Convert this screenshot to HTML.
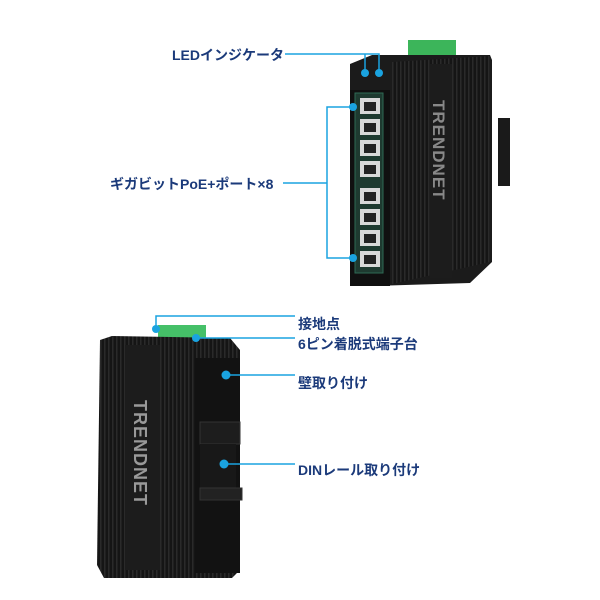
<!DOCTYPE html>
<html><head><meta charset="utf-8"><style>
body{margin:0;background:#fff}
svg{display:block}
text{font-family:"Liberation Sans","Noto Sans CJK JP",sans-serif;font-weight:bold;fill:#1b3a7a;font-size:14px}
</style></head><body>
<svg width="600" height="600" viewBox="0 0 600 600">
<defs>
<pattern id="fins" width="4" height="10" patternUnits="userSpaceOnUse"><rect width="4" height="10" fill="#151515"/><rect width="1.5" height="10" fill="#2a2a2a"/></pattern>
</defs>
<rect x="408" y="40" width="48" height="18" fill="#3cb55a"/>
<rect x="498" y="118" width="12" height="68" fill="#1a1a1a"/>
<polygon points="350,64 372,55 490,55 492,60 492,262 470,283 372,286 350,286" fill="#1b1b1b"/>
<polygon points="392,62 490,56 490,262 392,284" fill="url(#fins)"/>
<rect x="430" y="64" width="22" height="214" fill="#1c1c1c"/>
<text x="0" y="0" transform="translate(433,100) rotate(90)" style="fill:#888;font-size:17px;letter-spacing:1px">TRENDNET</text>
<rect x="350" y="90" width="40" height="196" fill="#101010"/>
<rect x="355" y="93" width="28" height="180" fill="#1e3a30" stroke="#2e6a55"/>
<g fill="#d8d8d8">
<rect x="360" y="98" width="20" height="16"/><rect x="360" y="119" width="20" height="16"/><rect x="360" y="140" width="20" height="16"/><rect x="360" y="161" width="20" height="16"/>
<rect x="360" y="188" width="20" height="16"/><rect x="360" y="209" width="20" height="16"/><rect x="360" y="230" width="20" height="16"/><rect x="360" y="251" width="20" height="16"/>
</g>
<g fill="#222"><rect x="364" y="102" width="12" height="9"/><rect x="364" y="123" width="12" height="9"/><rect x="364" y="144" width="12" height="9"/><rect x="364" y="165" width="12" height="9"/><rect x="364" y="192" width="12" height="9"/><rect x="364" y="213" width="12" height="9"/><rect x="364" y="234" width="12" height="9"/><rect x="364" y="255" width="12" height="9"/></g>
<g stroke="#1aa3e0" stroke-width="1.5" fill="none">
<polyline points="285,54 379,54 379,73"/><line x1="365" y1="54" x2="365" y2="73"/>
<polyline points="353,107 327,107 327,258 353,258"/><line x1="283" y1="183" x2="327" y2="183"/>
</g>
<g fill="#1aa3e0"><circle cx="365" cy="73" r="4"/><circle cx="379" cy="73" r="4"/><circle cx="353" cy="107" r="4"/><circle cx="353" cy="258" r="4"/></g>
<text x="172" y="60">LEDインジケータ</text>
<text x="110" y="189">ギガビットPoE+ポート×8</text>
<rect x="158" y="325" width="48" height="30" fill="#45c068"/>
<polygon points="100,340 112,336 230,338 240,350 240,570 232,578 104,578 97,565" fill="url(#fins)"/>
<rect x="125" y="345" width="35" height="225" fill="#1c1c1c"/>
<text x="0" y="0" transform="translate(134,400) rotate(90)" style="fill:#999;font-size:18px;letter-spacing:1px">TRENDNET</text>
<rect x="195" y="358" width="45" height="215" fill="#121212"/>
<rect x="200" y="422" width="40" height="22" fill="#1d1d1d" stroke="#333"/>
<rect x="200" y="444" width="36" height="44" fill="#181818"/>
<rect x="200" y="488" width="42" height="12" fill="#222" stroke="#333"/>
<g stroke="#1aa3e0" stroke-width="1.5" fill="none">
<polyline points="156,329 156,316 295,316"/>
<line x1="196" y1="338" x2="295" y2="338"/>
<line x1="226" y1="375" x2="295" y2="375"/>
<line x1="224" y1="464" x2="295" y2="464"/>
</g>
<g fill="#1aa3e0"><circle cx="156" cy="329" r="4"/><circle cx="196" cy="338" r="4"/><circle cx="226" cy="375" r="4.5"/><circle cx="224" cy="464" r="4.5"/></g>
<text x="298" y="329">接地点</text>
<text x="298" y="349">6ピン着脱式端子台</text>
<text x="298" y="388">壁取り付け</text>
<text x="298" y="475">DINレール取り付け</text>
</svg>
</body></html>
